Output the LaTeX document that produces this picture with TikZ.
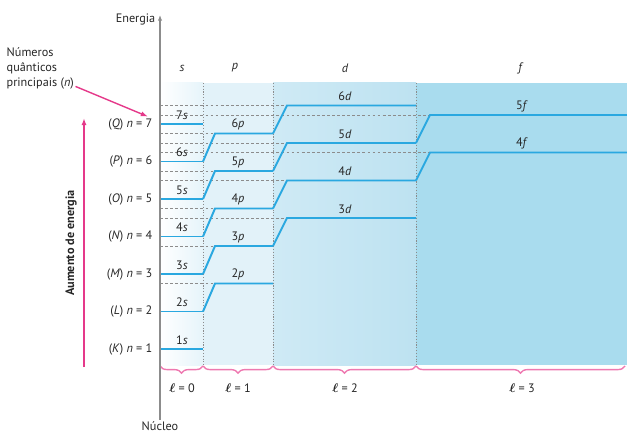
\documentclass[tikz,border=0pt]{standalone}
\usepackage{fontspec}
\setmainfont{PT Sans}
\usepackage{tikz}
\usetikzlibrary{arrows.meta,decorations.pathreplacing,positioning}
\definecolor{orbblue}{HTML}{2AA8E0}
\definecolor{orbgray}{HTML}{8C8C8C}
\definecolor{orbpink}{HTML}{E5398A}
\definecolor{orbpinklight}{HTML}{EE78B0}
\definecolor{orbsleft}{HTML}{FFFFFF}
\definecolor{orbsright}{HTML}{E6F4FA}
\definecolor{orbp}{HTML}{E2F2F9}
\definecolor{orbdleft}{HTML}{CFEAF5}
\definecolor{orbdright}{HTML}{BDE2F1}
\definecolor{orbf}{HTML}{A9DCEE}
\tikzset{%
  orbtext/.style={%
    font=\fontsize{8.7}{10.8}\selectfont,
    inner sep=1pt,
    text=black!85
  },
  orbsub/.style={%
    orbtext,
    font=\fontsize{8.7}{10.8}\selectfont\itshape
  },
  orbline/.style={draw=orbblue,line width=1.4pt},
  orbguide/.style={draw=orbgray,line width=0.6pt,dash pattern=on 2pt off 1.6pt},
  orbdivider/.style={draw=orbgray,line width=0.7pt,dash pattern=on 0.8pt off 1.2pt},
  orbbrace/.style={decorate,decoration={brace,mirror,amplitude=1.8mm},draw=orbpinklight,line width=1pt},
  orbpinkarrow/.style={-{Latex[length=1.8mm,width=1.3mm]},draw=orbpink,line width=1pt},
  orbaxis/.style={-{Latex[length=1.4mm,width=1.1mm]},draw=orbgray,line width=0.9pt}
}
\begin{document}
\begin{tikzpicture}[x=0.25mm,y=-0.25mm]
    \useasboundingbox (0,0) rectangle (627,435);
    \shade[left color=orbsleft,right color=orbsright] (160,83) rectangle (203,365);
    \fill[orbp] (203,83) rectangle (273,365);
    \shade[left color=orbdleft,right color=orbdright] (273,83) rectangle (416,365);
    \fill[orbf] (416,83) rectangle (627,365);

    \foreach \n in {2,...,6}{
      \pgfmathsetmacro\ys{349-37.5*(\n-1)}
      \draw[orbguide] (160,\ys-28) -- (215,\ys-28);
    }
    \foreach \n in {3,...,6}{
      \pgfmathsetmacro\ys{349-37.5*(\n-1)}
      \draw[orbguide] (160,\ys-56) -- (287,\ys-56);
    }
    \foreach \n in {4,5}{
      \pgfmathsetmacro\ys{349-37.5*(\n-1)}
      \draw[orbguide] (160,\ys-84) -- (430,\ys-84);
    }
    \foreach \x in {203,273,416}
      \draw[orbdivider] (\x,83) -- (\x,365);

    \foreach \n/\sh in {1/K,2/L,3/M,4/N,5/O,6/P,7/Q}{
      \pgfmathsetmacro\ys{349-37.5*(\n-1)}
      \draw[orbline] (160,\ys) -- (203,\ys);
      \node[orbtext,anchor=east] (shell\n) at (154,\ys) {(\textit{\sh}) \textit{n} = \n};
      \node[orbtext] (s\n) at (182,\ys-9) {\n\textit{s}};
    }
    \foreach \n in {2,...,6}{
      \pgfmathsetmacro\ys{349-37.5*(\n-1)}
      \draw[orbline] (203,\ys) -- (215,\ys-28) -- (273,\ys-28);
      \node[orbtext] (p\n) at (238,\ys-37) {\n\textit{p}};
    }
    \foreach \n in {3,...,6}{
      \pgfmathsetmacro\ys{349-37.5*(\n-1)}
      \draw[orbline] (273,\ys-28) -- (287,\ys-56) -- (416,\ys-56);
      \node[orbtext] (d\n) at (345,\ys-65) {\n\textit{d}};
    }
    \foreach \n in {4,5}{
      \pgfmathsetmacro\ys{349-37.5*(\n-1)}
      \draw[orbline] (416,\ys-56) -- (430,\ys-84) -- (627,\ys-84);
      \node[orbtext] (f\n) at (522,\ys-93) {\n\textit{f}};
    }

    \foreach \c/\x in {s/182,p/235,d/345,f/520}
      \node[orbsub] (head\c) at (\x,68) {\c};
    \foreach \a/\b/\l/\m in {160/203/0/182,203/273/1/238,273/416/2/345,416/625/3/522}{
      \draw[orbbrace] (\a,366) -- (\b,366);
      \node[orbtext] (ell\l) at (\m,388) {{\boldmath$\ell$} = \l};
    }

    \node[orbtext] (nucleus) at (160,426) {Núcleo};
    \node[orbtext,anchor=east] (energy) at (157,19) {Energia};
    \coordinate (axistop) at (160,15);
    \draw[orbaxis] (nucleus.north) -- (axistop);

    \node[orbtext,align=left,anchor=north west] (note) at (5,46) {Números\\quânticos\\principais (\textit{n})};
    \draw[orbpinkarrow] ([yshift=1.2mm]note.south east) -- ([xshift=-1.5mm]shell7.north east);

    \coordinate (risebase) at (84,367);
    \coordinate (risetop) at (84,118);
    \draw[orbpinkarrow] (risebase) -- (risetop);
    \node[orbtext,font=\fontsize{8.7}{10}\selectfont\bfseries,rotate=90] (rise) at (71,243) {Aumento de energia};
  \end{tikzpicture}
\end{document}
